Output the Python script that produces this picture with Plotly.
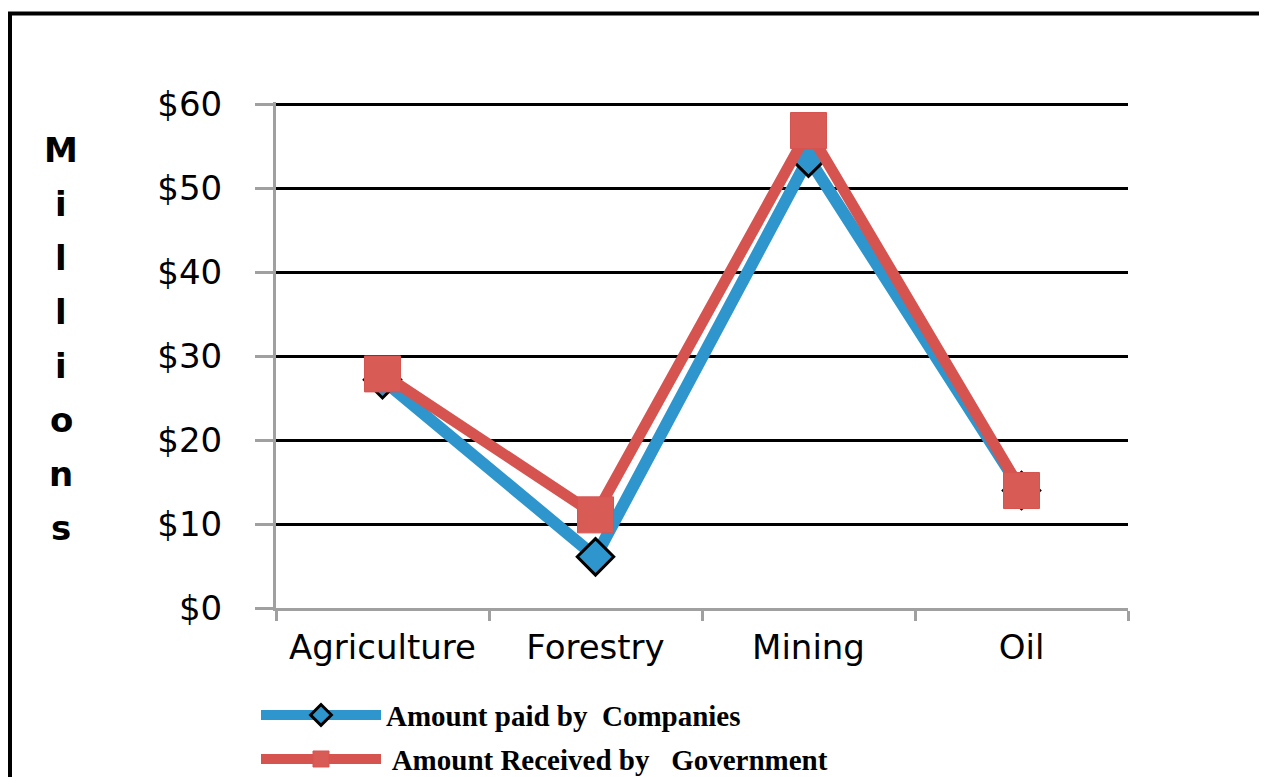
import plotly.graph_objects as go

# Data (millions of dollars)
sectors = ["Agriculture", "Forestry", "Mining", "Oil"]
paid_by_companies = [27.2, 6.1, 53.6, 14.0]
received_by_government = [27.9, 11.1, 56.9, 14.0]
y_ticks = [0, 10, 20, 30, 40, 50, 60]
y_tick_labels = ["$0", "$10", "$20", "$30", "$40", "$50", "$60"]
y_title_letters = ["M", "i", "l", "l", "i", "o", "n", "s"]

BLUE = "#2E96CD"
RED = "#D65450"
GRID = "#000000"
AXIS = "#A0A0A0"

W, H = 1267, 777
PAGE_PAD = 8  # the page puts the figure 8px in from the top-left corner

Y_TOP = 60.3  # a bit above $60 so that gridline is kept
unit_px = (608 - 105) / 60

L = 276 - PAGE_PAD
R = W - (1128 - PAGE_PAD)
T = (608 - Y_TOP * unit_px) - PAGE_PAD
B = H - (608 - PAGE_PAD)
plot_w = W - L - R
plot_h = H - T - B


def px_x(x):
    return (x - PAGE_PAD - L) / plot_w


def px_y(y):
    return (H - B - (y - PAGE_PAD)) / plot_h


fig = go.Figure()

fig.add_trace(go.Scatter(
    x=sectors, y=paid_by_companies,
    name="Amount paid by  Companies",
    mode="lines+markers",
    line=dict(color=BLUE, width=12),
    marker=dict(symbol="diamond", size=28, color=BLUE,
                line=dict(color="black", width=3)),
    legend="legend",
))
fig.add_trace(go.Scatter(
    x=sectors, y=received_by_government,
    name=" Amount Received by   Government",
    mode="lines+markers",
    line=dict(color=RED, width=11),
    marker=dict(symbol="square", size=36, color="#D85B56",
                line=dict(color=RED, width=1)),
    legend="legend2",
))

legend_font = dict(family="Liberation Serif", size=29, color="black", weight="bold")
fig.update_layout(
    width=W, height=H,
    margin=dict(l=L, r=R, t=T, b=B, autoexpand=False),
    paper_bgcolor="white",
    plot_bgcolor="white",
    showlegend=True,
    legend=dict(x=px_x(256), y=px_y(715), xanchor="left", yanchor="middle",
                font=legend_font, itemwidth=120, bgcolor="rgba(0,0,0,0)"),
    legend2=dict(x=px_x(256), y=px_y(759), xanchor="left", yanchor="middle",
                 font=legend_font, itemwidth=120, bgcolor="rgba(0,0,0,0)"),
    xaxis=dict(
        type="category", range=[-0.5, 3.5],
        showgrid=False, showline=True, linecolor=AXIS, linewidth=3,
        ticks="outside", tickson="boundaries", ticklen=10, tickwidth=3,
        tickcolor=AXIS, ticklabelstandoff=7,
        tickfont=dict(family="DejaVu Sans", size=34, color="black"),
    ),
    yaxis=dict(
        range=[0, Y_TOP], tickvals=y_ticks, ticktext=y_tick_labels,
        showgrid=True, gridcolor=GRID, gridwidth=3,
        showline=True, linecolor=AXIS, linewidth=3,
        ticks="outside", ticklen=18, tickwidth=3, tickcolor=AXIS,
        ticklabelstandoff=26,
        tickfont=dict(family="DejaVu Sans", size=34, color="black"),
        zeroline=False,
    ),
)

# Vertical stacked axis title
for i, letter in enumerate(y_title_letters):
    fig.add_annotation(
        text=letter, xref="paper", yref="paper",
        x=px_x(61), y=px_y(150 + i * 54),
        xanchor="center", yanchor="middle",
        showarrow=False,
        font=dict(family="DejaVu Sans", size=34, color="black", weight="bold"),
    )

# Outer frame
fig.add_shape(
    type="rect", xref="paper", yref="paper",
    x0=px_x(10), x1=px_x(1300), y0=px_y(840), y1=px_y(14),
    line=dict(color="black", width=4), fillcolor="rgba(0,0,0,0)",
    layer="below",
)

fig.write_html("out.html")
